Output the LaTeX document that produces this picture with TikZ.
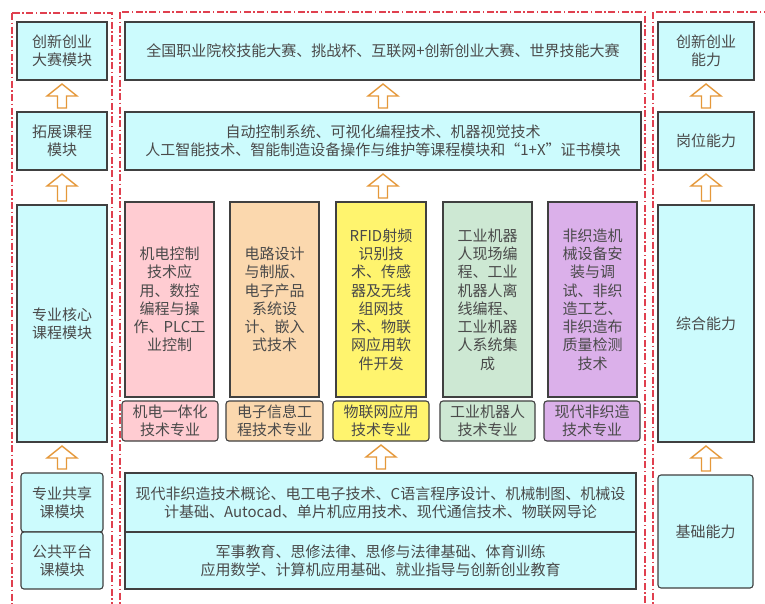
\documentclass[tikz,border=0pt]{standalone}
\usepackage{fontspec}
\setmainfont{Noto Sans CJK SC}
\usetikzlibrary{calc}
\definecolor{cyanbox}{HTML}{CCFBFD}
\definecolor{edge}{HTML}{404040}
\definecolor{txt}{HTML}{4A4A4A}
\definecolor{pinkbox}{HTML}{FFCCD2}
\definecolor{orangebox}{HTML}{FBD8AE}
\definecolor{yellowbox}{HTML}{FFF46E}
\definecolor{greenbox}{HTML}{CDE8D3}
\definecolor{purplebox}{HTML}{DBB0EA}
\definecolor{arrowc}{HTML}{E5983A}
\definecolor{dashc}{HTML}{E0404F}
\tikzset{
  box/.style={draw=edge, line width=1.1pt, fill=cyanbox, text=txt, align=center,
    inner sep=0pt, outer sep=0pt, font=\fontsize{15}{18.3}\selectfont},
  rbox/.style={box, rounded corners=3pt},
  barrow/.style={draw=arrowc, line width=1.4pt, fill=white, line join=miter},
  container/.style={draw=dashc, line width=1.3pt, dash pattern=on 7pt off 2.5pt on 1.5pt off 2.5pt}
}
\newcommand\bx[7]{\node[box,#6,minimum width={(#4-#2)*1pt},minimum height={(#5-#3)*1pt}] (#1) at ({(#2+#4)/2},{(#3+#5)/2}) {#7};}
\newcommand\blockup[2]{\draw[barrow] let \p1=(#1.north), \p2=(#2.south) in
 (\x2-4.5pt,\y1+4pt) -- (\x2+4.5pt,\y1+4pt) -- (\x2+4.5pt,\y2-16pt) -- (\x2+15pt,\y2-16pt) -- (\x2,\y2-4pt) -- (\x2-15pt,\y2-16pt) -- (\x2-4.5pt,\y2-16pt) -- cycle;}
\begin{document}
\begin{tikzpicture}[x=1pt,y=-1pt]
\useasboundingbox (0,0) rectangle (765,603);
\fill[white] (0,0) rectangle (765,603);
\begin{scope}
\clip (0,0) rectangle (765,603);
\draw[container] (12,13) rectangle (112,612);
\draw[container] (120,12) rectangle (645,612);
\draw[container] (653,12) rectangle (780,612);
\end{scope}
% left column
\bx{L1}{17}{22}{107}{80}{}{创新创业\\大赛模块}
\bx{L2}{17}{112}{107}{170}{}{拓展课程\\模块}
\bx{L3}{17}{205}{107}{442}{}{专业核心\\课程模块}
\bx{L4}{21}{473}{103}{532}{rbox}{专业共享\\课模块}
\bx{L5}{21}{532}{103}{589}{rbox}{公共平台\\课模块}
% middle column
\bx{M1}{125}{22}{641}{80}{}{全国职业院校技能大赛、挑战杯、互联网+创新创业大赛、世界技能大赛}
\bx{M2}{125}{112}{641}{170}{}{自动控制系统、可视化编程技术、机器视觉技术\\人工智能技术、智能制造设备操作与维护等课程模块和“1+X”证书模块}
\bx{P1}{125}{202}{214}{397}{fill=pinkbox}{机电控制\\技术应\\用、数控\\编程与操\\作、PLC工\\业控制}
\bx{P2}{122}{401}{218}{441}{rbox,fill=pinkbox}{机电一体化\\技术专业}
\bx{O1}{230}{202}{319}{397}{fill=orangebox}{电路设计\\与制版、\\电子产品\\系统设\\计、嵌入\\式技术}
\bx{O2}{226}{401}{323}{441}{rbox,fill=orangebox}{电子信息工\\程技术专业}
\bx{Y1}{336}{202}{426}{397}{fill=yellowbox}{RFID射频\\识别技\\术、传感\\器及无线\\组网技\\术、物联\\网应用软\\件开发}
\bx{Y2}{333}{401}{429}{441}{rbox,fill=yellowbox}{物联网应用\\技术专业}
\bx{G1}{443}{202}{532}{397}{fill=greenbox}{工业机器\\人现场编\\程、工业\\机器人离\\线编程、\\工业机器\\人系统集\\成}
\bx{G2}{440}{401}{535}{441}{rbox,fill=greenbox}{工业机器人\\技术专业}
\bx{V1}{548}{202}{637}{397}{fill=purplebox}{非织造机\\械设备安\\装与调\\试、非织\\造工艺、\\非织造布\\质量检测\\技术}
\bx{V2}{544}{401}{640}{441}{rbox,fill=purplebox}{现代非织造\\技术专业}
\bx{M3}{125}{473}{636}{532}{}{现代非织造技术概论、电工电子技术、C语言程序设计、机械制图、机械设\\计基础、Autocad、单片机应用技术、现代通信技术、物联网导论}
\bx{M4}{125}{532}{636}{589}{}{军事教育、思修法律、思修与法律基础、体育训练\\应用数学、计算机应用基础、就业指导与创新创业教育}
% right column
\bx{R1}{658}{22}{754}{80}{}{创新创业\\能力}
\bx{R2}{658}{112}{754}{170}{}{岗位能力}
\bx{R3}{658}{205}{754}{442}{}{综合能力}
\bx{R4}{658}{475}{753}{588}{rbox}{基础能力}
% arrows
\blockup{L2}{L1}
\blockup{L3}{L2}
\blockup{L4}{L3}
\blockup{M2}{M1}
\blockup{Y1}{M2}
\blockup{M3}{Y2}
\blockup{R2}{R1}
\blockup{R3}{R2}
\blockup{R4}{R3}
\end{tikzpicture}
\end{document}
